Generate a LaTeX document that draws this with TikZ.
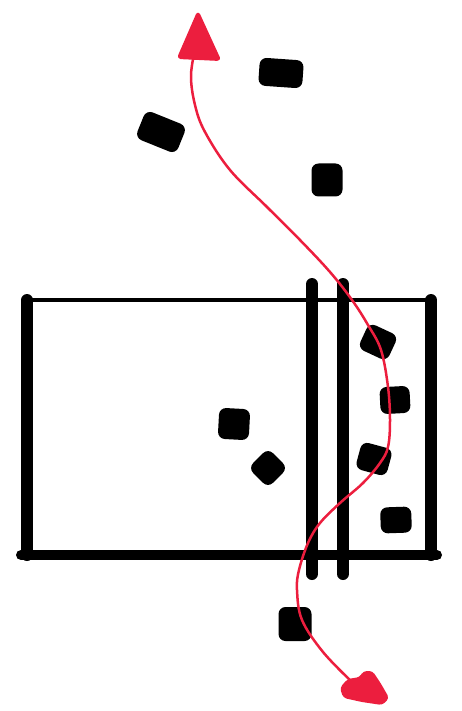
\documentclass[tikz,border=0pt]{standalone}
\usetikzlibrary{calc}
\definecolor{penred}{RGB}{236,30,62}
\begin{document}
\begin{tikzpicture}[
    x=1pt, y=-1pt,
    % Pen styles
    thinline/.style={line width=4pt, line cap=round},
    thickline/.style={line width=12pt, line cap=round},
    blob/.style={fill=black, rounded corners=7pt},
    route/.style={draw=penred, line width=2.5pt, line cap=round},
    tiphead/.style={fill=penred, draw=penred, line width=2pt, line join=round, rounded corners=3pt},
]
    \useasboundingbox (0,0) rectangle (462,711);

    % Court outline
    \coordinate (tl) at (27,300);
    \coordinate (tr) at (431,300);
    \coordinate (bl) at (27,555);
    \coordinate (br) at (431,555);
    \draw[thinline] ($(tl)+(-4,0)$) -- ($(tr)+(2,0)$);
    \draw[line width=10pt, line cap=round] ($(bl)+(-6,0)$) -- ($(br)+(6,0)$);
    \draw[thickline] (tl) -- (bl);
    \draw[thickline] (tr) -- (br);

    % Net posts
    \foreach \x in {312,343} {
        \draw[thickline] (\x,284) -- (\x,574);
    }

    % Players
    \foreach \x/\y/\w/\h/\a in {281/73/44/28/-4, 161/132/44/30/-22, 327/180/31/33/0,
                                 234/424/31/31/-3, 268/468/28/28/45,
                                 378/342/32/28/-25, 395/400/30/27/3,
                                 374/459/32/28/-15, 396/520/31/26/2,
                                 295/624/33/34/0} {
        \fill[blob, rotate around={\a:(\x,\y)}]
            ({\x-\w/2},{\y-\h/2}) rectangle ({\x+\w/2},{\y+\h/2});
    }

    % Route
    \draw[route] plot[smooth, tension=0.6] coordinates {
        (196,45) (191,75) (195,105) (205,132) (230,170) (267,207) (300,240)
        (330,272) (352,300) (368,325) (381,350) (388,387) (390,420) (388,447)
        (380,463) (363,483) (340,503) (320,523) (308,543) (299,570) (297,590)
        (302,620) (323,652) (352,682)};

    % Arrow heads
    \filldraw[tiphead] (198,12) -- (178,58) -- (220,60) -- cycle;
    \filldraw[tiphead] (341,688) -- (348,680) -- (360,678) -- (364,672) -- (372,672)
        -- (380,684) -- (388,698) -- (382,704) -- (362,701) -- (344,697) -- cycle;

\end{tikzpicture}
\end{document}
